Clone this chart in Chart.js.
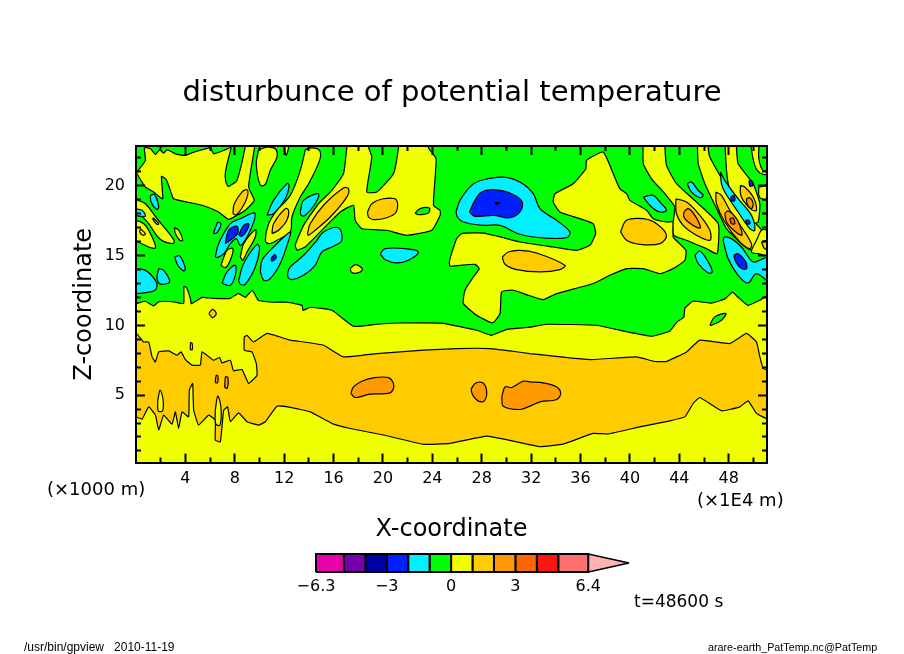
<!DOCTYPE html>
<html><head><meta charset="utf-8">
<script src="https://cdn.jsdelivr.net/npm/chart.js@4"></script>
<style>html,body{margin:0;padding:0;background:#fff;width:904px;height:654px;overflow:hidden}
canvas{position:absolute}</style></head><body>
<canvas id="main" width="904" height="654" style="left:0;top:0"></canvas>
<canvas id="bar" width="350" height="60" style="left:290px;top:545px"></canvas>
<script>
const titleText='disturbunce of potential temperature';
const xAxisTitle='X-coordinate', yAxisTitle='Z-coordinate';
const xUnitLabel='(×1000 m)', xScaleLabel='(×1E4 m)', timeLabel='t=48600 s';
const footLeft='/usr/bin/gpview   2010-11-19', footRight='arare-earth_PatTemp.nc@PatTemp';
const xMajorTicks=[4,8,12,16,20,24,28,32,36,40,44,48];
const xMinorTicks=[2,6,10,14,18,22,26,30,34,38,42,46,50];
const yMajorTicks=[5,10,15,20];
const yMinorTicks=[1,2,3,4,6,7,8,9,11,12,13,14,16,17,18,19,21,22];
const barLevels=[-6.3,-5,-4,-3,-2,-1,0,1,2,3,4,5,6.4];
const barColors=['#E800A8','#7800A8','#0000A8','#0020FF','#00F0FF','#00FF00','#F0FF00','#FFCC00','#FF9B00','#FF6600','#FF1414','#FF7070'];
const barArrowTip=[8.3,0.5], barArrowColor='#FFB4B4';
const barTickValues=[-6.3,-3,0,3,6.4];
const barTickLabels=['−6.3','−3','0','3','6.4'];
const GREEN='#00FF00',YEL='#F0FF00',GOLD='#FFCC00',ORG='#FF9B00',DORG='#FF6600',CYAN='#00F0FF',BLUE='#0020FF',NAVY='#0000A8';

const domain=[[-1,-1],[53,-1],[53,24],[-1,24]];
const lowYellow=[[-1,11.57],[0,11.57],[.76,11.73],[1.41,11.39],[1.81,11.68],[2.38,11.73],[3.19,11.66],[3.86,11.57],[3.88,12.8],[4.08,12.73],[4.4,11.94],[4.48,11.55],[5.34,12.01],[6.26,11.94],[7.64,11.94],[8.28,12.3],[8.85,12.01],[9.42,12.52],[9.9,11.8],[11.03,11.66],[12.25,11.66],[13.44,11.44],[13.52,11.08],[14.11,11.3],[15.87,11.08],[17.59,9.94],[19.49,10.08],[21.39,10.17],[24.87,10.15],[27.6,9.65],[28.8,9.29],[30.03,9.72],[31.9,9.87],[33.26,10.08],[37.31,10.01],[39.43,9.6],[41.75,9.22],[43.24,9.6],[43.78,10.22],[44.37,10.6],[44.45,11.23],[45.1,11.73],[46.6,11.6],[47.69,11.9],[48.31,12.39],[48.74,12.03],[49.55,11.44],[50.5,11.8],[51.15,12.16],[53,12.16],[53,-1],[-1,-1]];
const goldBand=[[-1,9.42],[.03,9.42],[.62,8.81],[1.03,8.81],[1.3,7.74],[1.57,7.38],[1.84,8.1],[2.65,8.17],[3.32,7.86],[3.65,8.1],[4,7.55],[4.54,7.15],[5.21,7.15],[5.35,8.1],[6.28,7.5],[6.77,7.7],[6.96,7.31],[7.64,7.5],[7.9,6.74],[8.58,6.84],[9.12,5.84],[9.8,6.43],[9.74,7.27],[9.39,8.1],[8.77,8.22],[8.77,9.17],[8.99,9.29],[9.52,8.81],[10.61,9.42],[12.49,8.94],[13.57,8.81],[15.19,8.58],[16.8,7.74],[19.51,7.98],[23.28,8.22],[25.98,8.34],[28.67,8.34],[30.29,8.17],[31.9,7.98],[36.76,7.55],[40.53,7.74],[42.02,7.41],[42.96,7.41],[44.58,8.1],[45.66,8.94],[48.09,8.7],[49.44,9.42],[50.25,8.81],[50.52,7.74],[50.79,6.91],[51.2,6.79],[53,6.79],[53,3.26],[51.2,3.26],[50.25,3.69],[49.57,4.59],[48.9,4.16],[47.42,3.87],[45.66,4.83],[45.12,4.4],[44.45,3.44],[43.24,3.16],[40.8,2.73],[38.24,2.21],[37.03,2.26],[34.6,1.49],[32.72,1.3],[30.83,1.65],[28.4,2.06],[25.43,1.54],[23.28,1.47],[20.04,2.14],[17.35,2.61],[16,2.92],[14.11,3.8],[12.49,4.12],[11.42,4.21],[10.47,3.09],[9.93,2.85],[8.99,3.09],[8.31,3.73],[7.64,3.09],[7.42,4.16],[7.1,3.92],[6.83,1.65],[6.42,1.78],[6.42,3.21],[5.88,3.57],[5.07,2.85],[4.67,3.92],[4.59,5.84],[4.32,5.36],[4.26,3.44],[3.73,3.8],[3.45,2.61],[3.19,3.8],[2.92,2.92],[2.24,3.57],[1.84,2.49],[1.57,3.57],[1.03,4.16],[.49,3.28],[0,3.45],[-1,3.45]];
const lensA=[[1.76,4.6],[1.95,5.36],[2.19,4.7],[2.15,3.87],[1.8,3.87]];
const lensB=[[6.42,3.9],[6.62,4.93],[6.88,4.1],[6.8,2.85],[6.45,2.95]];
const ovalA=[[5.9,10.85],[6.2,11.15],[6.5,10.85],[6.2,10.55]];
const dashA=[[4.4,8.25],[4.42,8.75],[4.55,8.7],[4.55,8.25]];
const specA=[[6.42,5.9],[6.5,6.43],[6.64,6.35],[6.6,5.88]];
const specB=[[7.18,5.55],[7.25,6.3],[7.45,6.25],[7.4,5.5]];
const blob1=[[17.4,5.12],[17.61,5.59],[18.29,6.0],[19.23,6.24],[20.44,6.26],[20.85,5.84],[20.8,5.36],[20.44,5.12],[18.96,5.07],[17.75,4.83]];
const blob2=[[27.13,5.41],[27.46,5.84],[28.08,5.88],[28.4,5.23],[28.19,4.57],[27.72,4.57],[27.27,5.0]];
const blob3=[[29.62,4.88],[29.89,5.59],[30.43,5.55],[31.36,6.0],[31.9,5.95],[32.98,5.88],[34.07,5.59],[34.39,5.12],[34.07,4.69],[32.72,4.52],[31.9,4.21],[31.1,3.97],[29.75,4.21]];
const islandGreen=[[46.47,10.01],[46.87,10.61],[47.77,10.85],[47.41,10.37],[46.6,10.01]];

const blockYellow=[[.03,20.94],[.76,19.92],[1.43,19.56],[2.16,19.08],[2.06,20.68],[2.46,20.44],[2.78,19.68],[3.05,19.08],[4.13,18.84],[5.35,18.61],[6.69,18.13],[7.5,17.6],[8.18,17.89],[8.85,18.25],[9.58,18.96],[9.12,19.92],[9.58,22.66],[9.58,23.5],[7.64,23.5],[7.64,22.78],[6.29,22.3],[6.02,22.73],[4.67,22.42],[4,22.19],[3.32,22.26],[2.51,22.59],[2.24,22.35],[1.92,22.59],[1.57,22.26],[1.17,22.66],[.68,22.73],[.76,21.83]];
const fingerGreen=[[7.72,23.4],[7.72,22.83],[7.23,20.87],[7.42,19.99],[7.77,20.11],[8.18,20.4],[8.85,22.83],[8.85,23.4]];
const blockLens=[[7.85,18.13],[7.96,18.72],[8.58,19.56],[8.99,19.73],[9.04,19.32],[8.72,18.61],[8.18,17.96],[7.91,17.96]];
const fingerC=[[9.93,22.59],[9.74,21.59],[10.07,20.04],[10.47,20.11],[10.87,21.11],[11.41,22.07],[11.28,22.66],[10.6,22.78]];
const fingerTip=[[12,22.85],[12.15,22.2],[12.35,22.85]];
const fingerD=[[13.71,22.59],[14.25,22.73],[14.87,22.54],[14.87,21.83],[13.98,20.16],[13.3,19.2],[12.63,17.77],[12.49,16.7],[11.41,16.1],[10.74,15.86],[10.47,16.1],[10.74,17.29],[11.41,18.25],[12.49,19.32],[13.3,21.11]];
const fingerDLens=[[11.01,16.58],[11.14,17.29],[12.09,18.37],[12.36,18.25],[12.22,17.53],[11.55,16.82]];
const cyanE=[[10.6,17.89],[11.14,18.96],[12.22,20.16],[12.41,20.04],[12.09,19.08],[11.14,18.01]];
const stripeS1=[[.03,19.01],[.76,18.72],[1.7,17.65],[3.05,16.15],[3,15.86],[1.97,16.17],[1.03,17.29],[.03,18.37]];
const stripeS1Cyan=[[-.5,18.41],[.49,18.25],[.76,17.82],[.36,17.82],[-.5,18.01]];
const stripeS2=[[-.5,17.65],[.63,17.29],[1.3,16.34],[1.57,15.57],[1.03,15.62],[-.5,16.46]];
const stripeS2Gold=[[.36,16.93],[.76,16.58],[.57,16.46],[.3,16.7]];
const stripeS1Gold=[[1.38,17.72],[1.84,17.29],[1.7,17.24],[1.38,17.58]];
const cyanF=[[1.16,19.32],[1.49,19.39],[1.84,18.49],[1.65,18.32],[1.22,18.84]];
const yellowG=[[3.11,17.01],[3.46,16.82],[3.78,16.1],[3.54,16.1],[3.19,16.58]];
const cyanG=[[3.13,14.9],[3.54,14.98],[4,14.07],[3.86,13.9],[3.38,14.31]];
const cyanH=[[-.5,13.95],[.63,14],[1.57,13.23],[1.65,12.64],[1.17,12.4],[-.5,12.4]];
const cyanI=[[1.84,14.07],[2.24,13.95],[2.73,13.12],[2.24,12.95],[1.84,13.04],[1.7,13.47]];
const cyanJ=[[6.61,17.41],[6.88,17.29],[6.61,16.7],[6.29,16.58]];
const cyanK=[[6.42,14.9],[6.69,15.86],[7.64,17.29],[8.45,17.65],[9.58,18.06],[9.58,17.53],[8.99,16.34],[8.45,15.74],[8.12,16.22],[7.64,15.86],[7.1,15.13],[6.56,14.86]];
const blueK1=[[7.23,15.86],[7.5,16.82],[8.18,17.1],[8.23,16.58],[7.64,16.1]];
const blueK2=[[8.31,16.46],[8.72,17.17],[9.12,17.29],[8.99,16.82],[8.58,16.39]];
const yellowL=[[6.88,14.31],[7.37,15.38],[7.85,15.5],[7.64,14.67],[7.23,14.14]];
const yellowM=[[8.45,14.9],[8.72,15.86],[9.66,16.86],[9.66,16.34],[8.99,15.26],[8.66,14.67]];
const cyanN=[[6.96,13],[7.37,13.83],[8.04,14.31],[8.04,13.59],[7.64,12.88]];
const cyanO=[[8.31,13.23],[8.72,14.43],[9.8,15.81],[10.01,15.5],[9.66,14.19],[8.85,12.95],[8.45,12.95]];
const cyanP=[[10.07,13.83],[10.2,14.67],[11.14,15.62],[12.49,16.7],[12.36,16.1],[11.68,14.43],[10.87,13.35],[10.34,13.23]];
const blueP=[[10.93,14.79],[11.22,15.07],[11.36,14.86],[11.01,14.6]];
const cyanQ=[[12.3,13.83],[12.49,14.19],[13.57,15.03],[14.65,16.1],[15.19,16.7],[16.4,17],[16.67,16.1],[15.99,15.67],[15.05,15.26],[14.51,14.31],[13.57,13.59],[12.62,13.28],[12.3,13.47]];
const cyanR=[[13.3,18.13],[13.57,18.96],[14.78,19.44],[14.51,18.72],[13.7,17.89],[13.38,17.89]];
const yellowF=[[13.03,15.38],[12.89,15.74],[13.57,17.17],[14.78,18.72],[15.86,19.68],[16.8,20.87],[17.07,22.78],[17.07,23.4],[18.83,23.4],[18.83,22.78],[19.1,22.07],[18.69,19.56],[19.5,19.56],[20.85,20.87],[21.26,22.73],[21.26,23.4],[23.68,23.4],[23.68,22.73],[24.3,21.95],[24.09,18.61],[24.63,18.25],[24.63,17.89],[23.95,16.82],[21.93,16.46],[20.31,16.82],[18.29,16.93],[17.75,17.53],[17.61,18.61],[16.54,18.13],[14.92,16.7],[13.7,15.62]];
const yellowFLens=[[13.89,16.58],[14.11,17.29],[15.19,18.61],[16.8,19.85],[17.21,19.8],[17.07,19.2],[15.73,17.77],[14.51,16.82],[13.97,16.46]];
const goldOval=[[18.75,18.13],[19.1,18.72],[20.04,19.08],[21.07,19.01],[21.07,18.13],[20.31,17.72],[19.23,17.58],[18.83,17.77]];
const greenSmall=[[22.6,18.06],[23.01,18.37],[23.76,18.41],[23.68,18.06],[22.87,17.94]];
const cyanS=[[19.77,15.14],[20.18,15.5],[21.79,15.5],[22.87,15.26],[22.06,14.67],[21.12,14.48],[20.18,14.71]];
const yellowT=[[17.34,14.07],[17.8,14.36],[18.34,14.02],[18.02,13.78],[17.48,13.78]];
const cyanBig=[[25.92,18.13],[26.24,18.96],[27.18,20.04],[28.13,20.44],[29.75,20.63],[31.09,20.28],[32.17,19.44],[32.71,18.37],[34.06,17.53],[35.14,16.7],[34.87,16.29],[32.98,16.27],[31.09,16.53],[29.48,17.17],[28.13,17.17],[26.51,17.41],[26.02,17.77]];
const blueBig=[[27,18.13],[27.45,18.96],[27.99,19.56],[28.94,19.73],[30.42,19.44],[31.28,18.84],[31.09,18.13],[30.28,17.72],[28.94,17.89],[27.45,17.82]];
const navyDot=[[29.07,18.8],[29.42,18.8],[29.2,18.68]];
const yellowBig=[[25.37,14.5],[25.43,14.79],[25.97,16.22],[26.37,16.58],[28.13,16.62],[29.75,16.29],[31.09,15.98],[33.79,15.62],[35.68,15.38],[36.76,15.74],[37.22,16.58],[37.03,17.29],[35.95,17.65],[34.33,18.13],[33.79,18.84],[33.93,19.44],[35.41,20.16],[36.43,21.23],[36.49,21.83],[37.84,22.42],[38.65,20.87],[39.18,19.8],[39.73,19.44],[40,18.96],[41.35,18.25],[41.89,17.65],[42.96,17.41],[43.5,17.41],[43.5,16.34],[44.53,15.38],[44.45,14.67],[43.5,14.07],[42.43,13.71],[41.08,14.07],[39.73,14.07],[38.38,13.59],[37.03,13],[34.06,12.28],[32.98,11.85],[31.77,12.16],[30.55,12.52],[29.61,12.4],[29.48,10.85],[28.88,10.18],[27.59,10.73],[26.51,11.56],[26.64,12.52],[27.32,13.47],[27.8,14.07],[27.45,14.38],[26.24,14.31],[25.43,14.24]];
const goldG1=[[29.66,14.9],[30.15,15.26],[31.09,15.38],[32.44,15.19],[34.73,14.31],[34.33,14],[32.71,13.83],[30.82,14],[29.88,14.38]];
const goldG2=[[39.24,16.7],[39.73,17.53],[41.08,17.65],[42.16,17.29],[42.96,16.46],[42.43,15.86],[40.81,15.81],[39.73,16.1]];
const cyanU=[[41.08,19.2],[41.89,19.32],[42.43,18.84],[42.96,18.25],[42.43,18.13],[41.75,18.49]];
const cyanV=[[44.64,20.16],[44.99,20.28],[45.53,19.68],[45.93,19.32],[45.66,19.15],[44.99,19.56]];
const cyanW=[[45.26,15.03],[45.66,15.33],[46.34,14.55],[46.66,13.83],[46.34,13.76],[45.53,14.43]];
const stripeT1=[[41.08,23.4],[42.83,23.4],[42.83,22.78],[42.96,21.47],[43.77,20.16],[45.39,18.84],[47.15,17.29],[47.06,15.14],[46.2,15.5],[44.58,16.1],[43.56,16.46],[43.5,17.41],[43.64,18.49],[42.83,19.44],[41.75,20.51],[41.08,21.59]];
const goldT1=[[43.72,19.08],[44.58,18.84],[45.66,17.89],[46.47,16.82],[46.47,16.1],[45.39,16.46],[44.31,17.17],[43.77,18.01]];
const orgT1=[[44.37,18.13],[44.72,18.37],[45.26,17.89],[45.72,17.01],[45.45,17.01],[44.72,17.41],[44.37,17.77]];
const stripeT2=[[45.45,23.38],[46.34,23.38],[46.34,22.73],[46.47,22.07],[47.68,20.16],[49.71,17.77],[51.11,16.34],[51.11,15.02],[50.25,15.5],[49.71,15.43],[49.03,15.86],[47.82,16.93],[47.15,18.13],[46.07,20.16],[45.53,21.59]];
const stripeT3=[[47.68,23.38],[48.63,23.38],[48.63,22.73],[48.76,21.59],[49.98,20.16],[50.52,18.72],[50.38,17.41],[49.84,17.29],[49.17,18.13],[48.09,19.68],[47.82,21.11]];
const goldT2=[[46.96,19.56],[47.41,19.32],[48.09,18.25],[49.03,17.05],[49.84,15.86],[49.71,15.5],[48.9,15.98],[47.68,17.41],[47.01,18.72]];
const orgT2=[[47.68,18.01],[47.95,18.2],[48.63,17.65],[49.03,16.81],[49.03,16.46],[48.36,16.86],[47.82,17.41]];
const dorgT2=[[48.09,17.65],[48.36,17.7],[48.49,17.29],[48.22,17.29]];
const goldT3=[[48.95,20.04],[49.3,19.92],[49.98,19.2],[50.25,18.25],[49.84,18.3],[49.17,18.96],[48.95,19.44]];
const orgT3=[[49.44,19.08],[49.71,19.15],[49.98,18.72],[49.84,18.37],[49.49,18.72]];
const cyanLens=[[47.33,20.99],[47.68,20.4],[48.76,19.08],[49.84,17.89],[50.11,16.81],[49.71,16.93],[48.76,18.13],[47.68,19.56],[47.41,20.16]];
const blueL1=[[48.17,19.2],[48.41,19.32],[48.49,18.96],[48.22,18.92]];
const blueL2=[[49.38,17.53],[49.65,17.53],[49.71,17.29],[49.44,17.29]];
const blueSpot=[[49.65,20.4],[49.84,20.4],[49.98,20.04],[49.71,19.99]];
const stripeT4=[[49.71,23.38],[50.38,23.38],[50.44,21.95],[50.79,21.11],[51.6,21.23],[51.6,20.92],[50.65,20.87],[50.11,21.47]];
const boxT=[[50.44,19.92],[51.6,19.97],[51.6,18.96],[50.65,19.08],[50.44,19.32]];
const stripeT5=[[50.25,16.1],[50.73,16.86],[51.6,16.46],[51.6,15.02],[50.38,15.14],[49.84,15.26]];
const goldT5=[[50.65,15.98],[51.6,16.15],[51.6,15.38],[50.92,15.5]];
const cyanLow=[[47.55,16.1],[47.68,16.34],[48.22,16.22],[49.03,15.62],[49.98,14.55],[50.79,14.79],[51.6,15.02],[51.6,12.95],[50.25,13.71],[49.57,13.04],[48.76,13.59],[47.95,14.79]];
const blueLow=[[48.41,15.03],[48.76,15.14],[49.38,14.55],[49.44,14.07],[49.03,14.07],[48.57,14.55]];

const layers=[[domain,GREEN,0],[lowYellow,YEL,.12],[goldBand,GOLD,.1],[lensA,YEL],[lensB,YEL],[ovalA,GOLD],[dashA,GOLD],[specA,ORG],[specB,ORG],[blob1,ORG],[blob2,ORG],[blob3,ORG],[islandGreen,GREEN],
[blockYellow,YEL,.15],[fingerGreen,GREEN],[blockLens,GOLD],[fingerC,YEL],[fingerTip,YEL],[fingerD,YEL],[fingerDLens,GOLD],[cyanE,CYAN],[stripeS1,YEL],[stripeS1Cyan,CYAN],[stripeS2,YEL],[stripeS2Gold,GOLD],[stripeS1Gold,GOLD],[cyanF,CYAN],[yellowG,YEL],[cyanG,CYAN],[cyanH,CYAN],[cyanI,CYAN],[cyanJ,CYAN],[cyanK,CYAN],[blueK1,BLUE],[blueK2,BLUE],[yellowL,YEL],[yellowM,YEL],[cyanN,CYAN],[cyanO,CYAN],[cyanP,CYAN],[blueP,BLUE],[cyanQ,CYAN],[cyanR,CYAN],
[yellowF,YEL,.15],[yellowFLens,GOLD],[goldOval,GOLD],[greenSmall,GREEN],[cyanS,CYAN],[yellowT,YEL],[cyanBig,CYAN],[blueBig,BLUE],[navyDot,NAVY],[yellowBig,YEL,.15],[goldG1,GOLD],[goldG2,GOLD],[cyanU,CYAN],[cyanV,CYAN],[cyanW,CYAN],
[stripeT1,YEL,.15],[goldT1,GOLD],[orgT1,ORG],[stripeT2,YEL,.15],[stripeT3,YEL,.15],[goldT2,GOLD],[orgT2,ORG],[dorgT2,DORG],[goldT3,GOLD],[orgT3,ORG],[cyanLens,CYAN],[blueL1,BLUE],[blueL2,BLUE],[blueSpot,BLUE],[stripeT4,YEL],[boxT,YEL],[stripeT5,YEL],[goldT5,GOLD],[cyanLow,CYAN],[blueLow,BLUE]];

Chart.defaults.font.family='"DejaVu Sans"';
Chart.defaults.color='#000';

function polygon(points,color,i,count,tension,edge){
  const data=points.concat([points[0]]).map(p=>({x:p[0],y:p[1]}));
  return {data,showLine:true,fill:'shape',backgroundColor:color,borderColor:edge?'#000':color,borderWidth:edge?1.2:0,
    pointRadius:0,pointHoverRadius:0,tension:tension===undefined?.35:tension,order:count-i};
}
function ruler(position,values,length,range,labels,size,extra){
  return Object.assign({type:'linear',position,min:range[0],max:range[1],
    afterBuildTicks:s=>{s.ticks=values.map(value=>({value}));},
    afterFit:s=>{if(s.isHorizontal())s.height=size;else s.width=size;},
    border:{display:true,color:'#000',width:2,z:1},
    grid:{display:true,drawOnChartArea:false,drawTicks:true,tickLength:length,tickWidth:2,tickColor:'#000',z:1},
    ticks:Object.assign({display:!!labels,autoSkip:false,maxRotation:0,minRotation:0,z:1,font:{size:16},callback:v=>String(v)},labels||{})},extra||{});
}
const xRange=[0,51.1], yRange=[.17,22.86];
const notes={id:'notes',afterDraw(c){
  const g=c.ctx;g.save();g.fillStyle='#000';g.textBaseline='middle';g.textAlign='left';
  g.font='18px "DejaVu Sans"';
  g.fillText(xUnitLabel,47,490);g.fillText(xScaleLabel,697,501);
  g.font='17px "DejaVu Sans"';g.fillText(timeLabel,634,603);
  g.font='12px "Liberation Sans"';g.fillText(footLeft,24,648);
  g.font='10.75px "Liberation Sans"';g.fillText(footRight,708,648);
  g.restore();}};
new Chart(document.getElementById('main'),{type:'scatter',plugins:[notes],
  data:{datasets:layers.map((l,i)=>polygon(l[0],l[1],i,layers.length,l[2],i>0))},
  options:{responsive:false,animation:false,devicePixelRatio:1,
    layout:{padding:{left:0,right:0,top:76,bottom:109.5}},
    plugins:{legend:{display:false},tooltip:{enabled:false},
      title:{display:true,text:titleText,align:'center',font:{size:29,weight:'normal',lineHeight:1.2},padding:{top:0,bottom:35.2}}},
    scales:{
      x:ruler('bottom',xMajorTicks,-9,xRange,{padding:16},82,{weight:0,title:{display:true,text:xAxisTitle,font:{size:24},padding:0}}),
      xMinorB:ruler('bottom',xMinorTicks,-5,xRange,null,0,{weight:-1}),
      xMajorT:ruler('top',xMajorTicks,-9,xRange,null,0,{weight:0}),
      xMinorT:ruler('top',xMinorTicks,-5,xRange,null,0,{weight:-1}),
      y:ruler('left',yMajorTicks,-9,yRange,{padding:20},136,{weight:0,title:{display:true,text:yAxisTitle,font:{size:24},padding:{top:70,bottom:0}}}),
      yMinorL:ruler('left',yMinorTicks,-5,yRange,null,0,{weight:-1}),
      yMajorR:ruler('right',yMajorTicks,-9,yRange,null,137,{weight:0}),
      yMinorR:ruler('right',yMinorTicks,-5,yRange,null,0,{weight:-1})
    }}});

const barSets=barColors.map((color,i)=>({data:[[barLevels[i],0],[barLevels[i+1],0],[barLevels[i+1],1],[barLevels[i],1],[barLevels[i],0]].map(p=>({x:p[0],y:p[1]})),
  showLine:true,fill:'shape',backgroundColor:color,borderColor:'#000',borderWidth:2,pointRadius:0,tension:0}));
barSets.push({data:[[6.4,0],barArrowTip,[6.4,1],[6.4,0]].map(p=>({x:p[0],y:p[1]})),showLine:true,fill:'shape',backgroundColor:barArrowColor,borderColor:'#000',borderWidth:1.5,borderJoinStyle:'bevel',pointRadius:0,tension:0});
new Chart(document.getElementById('bar'),{type:'scatter',data:{datasets:barSets},
  options:{responsive:false,animation:false,devicePixelRatio:1,clip:false,
    layout:{padding:{left:26,right:11,top:9,bottom:0}},
    plugins:{legend:{display:false},tooltip:{enabled:false},title:{display:false}},
    scales:{
      x:{type:'linear',min:-6.3,max:8.3,position:'bottom',border:{display:false},grid:{display:false,drawTicks:false},
        afterBuildTicks:s=>{s.ticks=barTickValues.map(value=>({value}));},
        afterFit:s=>{s.height=33;},
        ticks:{autoSkip:false,maxRotation:0,font:{size:16},padding:5,callback:v=>barTickLabels[barTickValues.indexOf(v)]}},
      y:{type:'linear',min:0,max:1,display:false}
    }}});
</script></body></html>
